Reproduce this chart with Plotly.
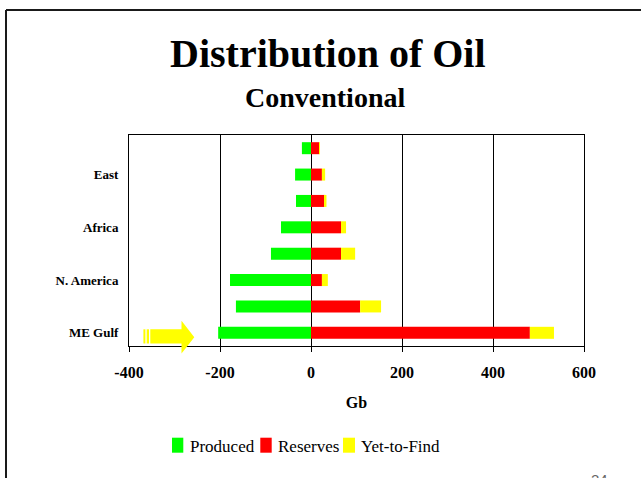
import plotly.graph_objects as go

# ---- data (bottom row first) ----
region_labels = ["ME Gulf", "", "N. America", "", "Africa", "", "East", ""]
produced = [-204, -165, -178, -88, -66, -33, -35, -20]
reserves = [481, 108, 24, 66, 66, 30, 24, 18]
yet_to_find = [53, 46, 13, 31, 11, 4, 7, 1]

series_names = ["Produced", "Reserves", "Yet-to-Find"]
series_colors = ["#00FF00", "#FF0000", "#FFFF00"]

x_ticks = [-400, -200, 0, 200, 400, 600]
x_tick_labels = ["-400", "-200", "0", "200", "400", "600"]

# ---- page geometry ----
W, H = 641, 478
L, R, T, B = 129, 57, 135, 132
PW, PH = W - L - R, H - T - B

def px(x):
    return (x - L) / PW

def py(y):
    return (H - B - y) / PH

SERIF = "Liberation Serif"

rows = list(range(len(region_labels)))

fig = go.Figure()
for name, color, vals in zip(series_names, series_colors, [produced, reserves, yet_to_find]):
    fig.add_trace(go.Bar(
        y=rows, x=vals, name=name, orientation="h",
        marker=dict(color=color, line=dict(width=0)),
        showlegend=False,
    ))

shapes = []
annotations = []

# slide frame (top and left edges)
shapes.append(dict(type="line", xref="paper", yref="paper",
                   x0=px(6), x1=px(660), y0=py(10), y1=py(10),
                   line=dict(color="#1a1a1a", width=2)))
shapes.append(dict(type="line", xref="paper", yref="paper",
                   x0=px(6), x1=px(6), y0=py(10), y1=py(490),
                   line=dict(color="#1a1a1a", width=2)))

# yellow block arrow pointing at the Middle East row
arrow_path = (
    f"M{px(150.3)},{py(329.3)} L{px(181.5)},{py(329.3)} L{px(181.5)},{py(320.7)} "
    f"L{px(194.3)},{py(337.3)} L{px(181.5)},{py(353.5)} L{px(181.5)},{py(343.5)} "
    f"L{px(150.3)},{py(343.5)} Z"
)
shapes.append(dict(type="path", xref="paper", yref="paper", path=arrow_path,
                   fillcolor="#FFFF00", line=dict(width=0), layer="above"))
for a, b in [(143.4, 145.4), (146.7, 149.0)]:
    shapes.append(dict(type="rect", xref="paper", yref="paper",
                       x0=px(a), x1=px(b), y0=py(343.5), y1=py(329.3),
                       fillcolor="#FFFF00", line=dict(width=0), layer="above"))

# titles
annotations.append(dict(text="<b>Distribution of Oil</b>", xref="paper", yref="paper",
                        x=px(327.5), y=py(53.4), xanchor="center", yanchor="middle",
                        showarrow=False, font=dict(family=SERIF, size=40, color="black")))
annotations.append(dict(text="<b>Conventional</b>", xref="paper", yref="paper",
                        x=px(325), y=py(97.3), xanchor="center", yanchor="middle",
                        showarrow=False, font=dict(family=SERIF, size=28, color="black")))

# legend drawn as swatches + labels
legend_swatches = [(172.0, 183.3), (260.3, 271.7), (343.0, 355.0)]
legend_text_x = [187.7, 275.7, 359.3]
for (x0, x1), tx, name, color in zip(legend_swatches, legend_text_x, series_names, series_colors):
    shapes.append(dict(type="rect", xref="paper", yref="paper",
                       x0=px(x0), x1=px(x1), y0=py(452.7), y1=py(437.7),
                       fillcolor=color, line=dict(width=0)))
    annotations.append(dict(text=name, xref="paper", yref="paper",
                            x=px(tx), y=py(446.3), xanchor="left", yanchor="middle",
                            showarrow=False, font=dict(family=SERIF, size=17, color="black")))

# page number (sits at the very bottom edge of the slide)
annotations.append(dict(text="24", xref="paper", yref="paper",
                        x=px(599), y=py(469), xanchor="center", yanchor="top",
                        showarrow=False, font=dict(family="Liberation Sans", size=15, color="#666666")))

y_range = [-0.5, len(rows) - 0.5]
boundaries = [i - 0.5 for i in range(len(rows) + 1)]

fig.update_layout(
    width=W, height=H,
    margin=dict(l=L, r=R, t=T, b=B, pad=0),
    paper_bgcolor="white", plot_bgcolor="white",
    barmode="relative", bargap=0.545,
    showlegend=False,
    shapes=shapes, annotations=annotations,
    xaxis=dict(
        range=[x_ticks[0], x_ticks[-1]],
        tickvals=x_ticks, ticktext=x_tick_labels,
        showgrid=True, gridcolor="black", gridwidth=1,
        zeroline=True, zerolinecolor="black", zerolinewidth=1,
        showline=True, linecolor="black", linewidth=1, mirror=True,
        ticks="outside", ticklen=5, tickcolor="black", tickwidth=1,
        ticklabelstandoff=7,
        tickfont=dict(family=SERIF, size=16, color="black", weight="bold"),
        title=dict(text="Gb", standoff=16,
                   font=dict(family=SERIF, size=16, color="black", weight="bold")),
        fixedrange=True,
    ),
    yaxis=dict(
        range=y_range,
        tickvals=rows, ticktext=region_labels,
        showgrid=False, zeroline=False,
        showline=True, linecolor="black", linewidth=1, mirror=True,
        ticks="", ticklabelstandoff=7,
        tickfont=dict(family=SERIF, size=13, color="black", weight="bold"),
        fixedrange=True,
    ),
    yaxis2=dict(
        overlaying="y", anchor="free", position=px(311), side="left",
        range=y_range, tickvals=boundaries,
        showticklabels=False, showgrid=False, zeroline=False, showline=False,
        ticks="outside", ticklen=4, tickcolor="black", tickwidth=1,
        fixedrange=True,
    ),
)

fig.write_html("out.html")
